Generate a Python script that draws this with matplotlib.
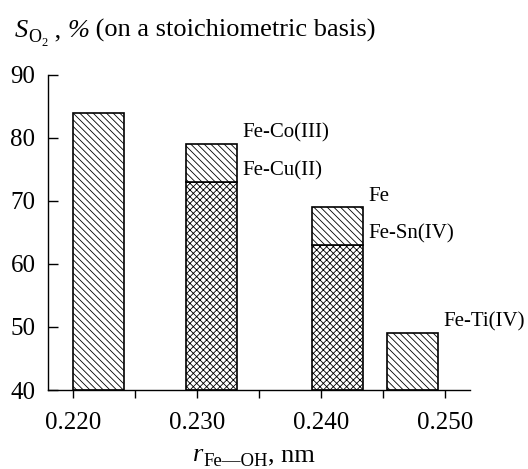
import matplotlib
matplotlib.use("Agg")
import matplotlib.pyplot as plt
from matplotlib.ticker import MultipleLocator

plt.rcParams['font.family'] = ['Liberation Serif', 'DejaVu Serif']
plt.rcParams['hatch.linewidth'] = 0.6

# data
bar_left = [0.2200, 0.2291, 0.2393, 0.2453]
bar_width = 0.0041
base_values = [None, 73, 63, None]      # cross-hatched lower parts
top_values = [84, 79, 69, 49]           # total heights
labels_top = ["", "Fe-Co(III)", "Fe", "Fe-Ti(IV)"]
labels_mid = ["", "Fe-Cu(II)", "Fe-Sn(IV)", ""]
y_ticks = [40, 50, 60, 70, 80, 90]
x_ticks = [0.220, 0.230, 0.240, 0.250]

fig = plt.figure(figsize=(5.28, 4.69), dpi=100)
ax = fig.add_axes([0.0909, 0.1684, 0.799, 0.672])
ymin = 40
for i, (l, top) in enumerate(zip(bar_left, top_values)):
    b = base_values[i]
    if b is not None:
        ax.bar(l, b - ymin, bottom=ymin, width=bar_width, align='edge',
               facecolor='white', edgecolor='black', hatch='xxxxx', linewidth=1.2)
        ax.bar(l, top - b, bottom=b, width=bar_width, align='edge',
               facecolor='white', edgecolor='black', hatch='\\\\\\\\\\', linewidth=1.2)
    else:
        ax.bar(l, top - ymin, bottom=ymin, width=bar_width, align='edge',
               facecolor='white', edgecolor='black', hatch='\\\\\\\\\\', linewidth=1.2)
    if labels_top[i]:
        ax.annotate(labels_top[i], (l + bar_width, top), xytext=(4, 8),
                    textcoords='offset points', fontsize=15, va='center', ha='left')
    if labels_mid[i]:
        ax.annotate(labels_mid[i], (l + bar_width, b), xytext=(4, 8),
                    textcoords='offset points', fontsize=15, va='center', ha='left')

ax.set_xlim(0.218, 0.252)
ax.set_ylim(40, 90)
ax.set_xticks(x_ticks)
ax.set_xticklabels([f"{v:.3f}" for v in x_ticks])
ax.xaxis.set_minor_locator(MultipleLocator(0.005))
ax.set_yticks(y_ticks)
ax.tick_params(axis='y', direction='in', length=7, width=1, labelsize=18, pad=9)
ax.tick_params(axis='x', which='both', direction='out', length=6, width=1, labelsize=18, pad=10)
for s in ['top', 'right']:
    ax.spines[s].set_visible(False)
for s in ['left', 'bottom']:
    ax.spines[s].set_linewidth(1)


def piece_text(x0, y0, pieces):
    """pieces: list of (text, fontsize, style, dy_px) ; dy positive = lower."""
    fig.canvas.draw()
    r = fig.canvas.get_renderer()
    x = x0
    for txt, fs, style, dy in pieces:
        t = fig.text(x / 528, (469 - y0 - dy) / 469, txt, fontsize=fs, style=style,
                     ha='left', va='baseline')
        bb = t.get_window_extent(renderer=r)
        x += bb.width


# y-axis title at top
piece_text(15, 37, [("S", 19, 'italic', 0), ("O", 13, 'normal', 5),
                    ("2", 9, 'normal', 9), (" , ", 19, 'normal', 0),
                    ("%", 19, 'italic', 0), (" (on a stoichiometric basis)", 19, 'normal', 0)])
# x-axis label
piece_text(193, 461, [("r", 19, 'italic', 0), ("Fe\u2014OH", 13.5, 'normal', 5),
                      (", nm", 19, 'normal', 0)])

fig.savefig("out.png", dpi=100)
